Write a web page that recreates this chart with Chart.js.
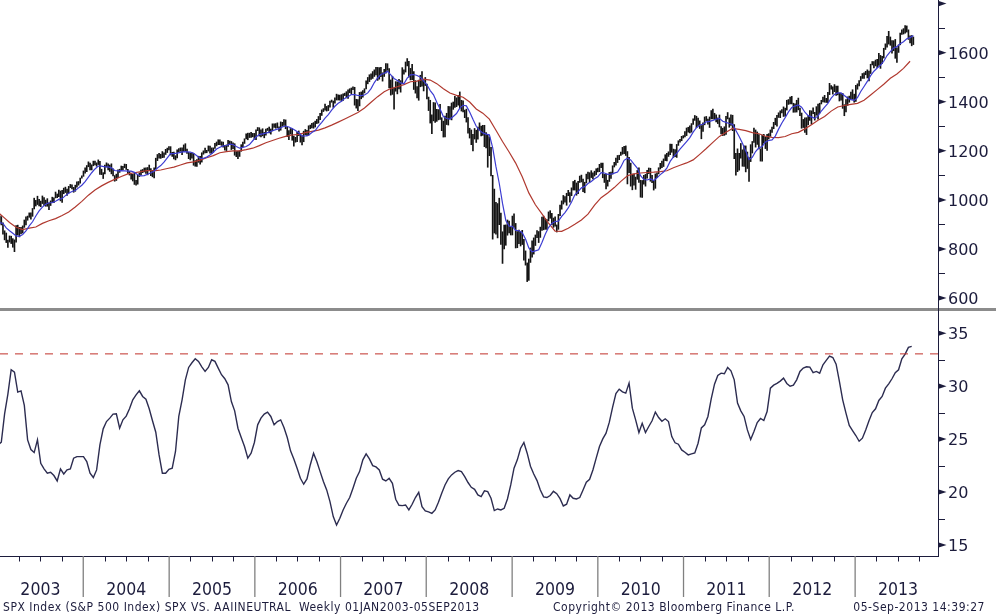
<!DOCTYPE html>
<html><head><meta charset="utf-8">
<script src="https://cdn.jsdelivr.net/npm/chart.js@4.4.1/dist/chart.umd.min.js"></script>
<style>
html,body{margin:0;padding:0;background:#fff;width:996px;height:616px;overflow:hidden;}
canvas{position:absolute;left:0;}
#top{top:0;}
#bot{top:311px;}
#sep{position:absolute;left:0;top:308px;width:996px;height:3px;background:#8c8c8c;}
#sepx{position:absolute;left:938px;top:308px;width:1px;height:3px;background:#1c1c3c;}
.ft{position:absolute;top:600px;line-height:14px;font-size:12px;letter-spacing:0.52px;font-family:"DejaVu Sans Condensed","DejaVu Sans",sans-serif;font-stretch:condensed;color:#1c1c3c;white-space:pre;}
</style></head><body>
<canvas id="top" width="996" height="308"></canvas>
<div id="sep"></div><div id="sepx"></div>
<canvas id="bot" width="996" height="305"></canvas>
<div class="ft" style="left:3px">SPX Index (S&amp;P 500 Index) SPX VS. AAIINEUTRAL  Weekly 01JAN2003-05SEP2013</div>
<div class="ft" style="left:553px">Copyright© 2013 Bloomberg Finance L.P.</div>
<div class="ft" style="right:11px">05-Sep-2013 14:39:27</div>
<script>
// ---------- DATA (weekly, first week ending 2003-01-03) ----------
const yearLabels = [2003,2004,2005,2006,2007,2008,2009,2010,2011,2012,2013];
const spxTicks = [600,800,1000,1200,1400,1600,1800];
const spxMinorTicks = [700,900,1100,1300,1500,1700];
const aaiiTicks = [15,20,25,30,35];
const aaiiMinorTicks = [17.5,22.5,27.5,32.5];
const neutralLevel = 33.05;

const spxLow = [
872,905,898,860,837,826,806,828,822,807,789,828,857,849,862,865,888,898,917,929,921,933,963,975,981,975,972,985,977,974,974,960,977,990,989,1008,1009,1013,996,990,1025,1030,1018,1028,1050,1045,1031,1035,1052,1060,1068,1088,
1096,1109,1115,1135,1122,1122,1139,1142,1137,1144,1104,1103,1087,1106,1134,1122,1116,1106,1098,1076,1079,1091,1112,1122,1123,1131,1124,1108,1101,1084,1077,1063,1060,1064,1095,1102,1111,1114,1108,1102,1121,1099,1094,1090,1127,1160,1170,1169,1172,1173,1185,1193,1204,
1183,1177,1167,1163,1171,1195,1198,1184,1198,1199,1189,1168,1163,1170,1141,1137,1136,1153,1146,1154,1186,1191,1192,1199,1190,1188,1194,1210,1220,1225,1225,1222,1215,1203,1201,1218,1228,1205,1209,1182,1176,1168,1177,1198,1217,1230,1248,1245,1254,1255,1257,1247,
1245,1282,1260,1257,1261,1253,1264,1283,1273,1268,1281,1295,1292,1294,1280,1284,1300,1303,1290,1258,1245,1268,1243,1219,1235,1237,1262,1235,1224,1237,1266,1261,1264,1290,1293,1292,1297,1311,1313,1327,1344,1360,1366,1362,1364,1378,1398,1377,1394,1407,1407,1406,
1403,1405,1425,1416,1414,1437,1431,1449,1386,1374,1364,1383,1412,1419,1436,1452,1473,1482,1491,1495,1503,1509,1487,1492,1502,1484,1503,1516,1528,1456,1427,1430,1370,1443,1432,1452,1439,1475,1512,1521,1546,1500,1489,1490,1450,1435,1416,1406,1461,1463,1444,1466,
1411,1364,1313,1270,1322,1316,1320,1326,1328,1282,1256,1257,1307,1305,1330,1326,1369,1377,1380,1386,1374,1362,1359,1335,1317,1272,1252,1225,1200,1248,1234,1247,1285,1261,1263,1217,1212,1133,1180,1098,840,865,860,845,899,818,741,800,815,856,865,857,
857,888,804,805,822,812,818,754,734,667,672,745,766,779,814,846,826,847,876,878,880,880,914,925,899,888,893,869,880,936,962,983,991,978,1017,991,1017,1040,1040,1019,1025,1071,1073,1033,1029,1069,1085,1073,1091,1085,1097,1103,1114,
1115,1131,1090,1071,1045,1056,1075,1087,1105,1134,1141,1152,1164,1181,1186,1188,1181,1065,1111,1056,1041,1060,1043,1084,1071,1011,1010,1064,1056,1088,1107,1076,1070,1040,1047,1091,1106,1126,1131,1136,1160,1159,1177,1184,1194,1173,1176,1173,1222,1235,1241,1252,
1257,1262,1276,1273,1276,1308,1324,1294,1302,1291,1249,1279,1306,1323,1309,1295,1330,1330,1328,1318,1311,1297,1269,1262,1263,1267,1330,1296,1303,1282,1168,1101,1115,1121,1170,1137,1136,1114,1128,1075,1156,1191,1234,1215,1226,1208,1158,1158,1231,1209,1202,1248,
1259,1275,1290,1306,1300,1336,1335,1354,1340,1341,1366,1389,1391,1391,1357,1358,1358,1367,1343,1292,1295,1275,1266,1306,1324,1309,1351,1325,1345,1329,1354,1391,1399,1398,1397,1396,1429,1451,1431,1441,1426,1428,1403,1406,1373,1343,1359,1385,1398,1412,1410,1398,
1401,1451,1465,1485,1495,1495,1510,1497,1485,1515,1550,1538,1546,1539,1548,1536,1555,1578,1613,1622,1635,1630,1598,1608,1577,1560,1601,1632,1674,1676,1680,1684,1654,1640,1628,1633
];
const spxHigh = [
912,935,932,906,874,865,836,853,852,842,837,895,897,888,888,894,918,931,934,947,947,965,1007,998,1015,1002,995,1016,1009,999,1005,987,996,1011,1008,1032,1024,1040,1036,1039,1048,1052,1044,1055,1063,1061,1051,1060,1074,1075,1089,1098,
1118,1131,1140,1155,1150,1143,1158,1158,1151,1163,1157,1125,1111,1142,1151,1147,1142,1147,1127,1099,1105,1122,1125,1138,1137,1146,1145,1125,1116,1106,1104,1108,1080,1100,1110,1121,1124,1130,1131,1132,1142,1128,1120,1131,1170,1185,1190,1186,1197,1192,1206,1211,1217,
1217,1194,1195,1180,1204,1209,1212,1212,1224,1229,1207,1194,1191,1192,1190,1160,1164,1178,1178,1192,1200,1211,1202,1220,1219,1212,1212,1230,1236,1245,1245,1237,1236,1222,1224,1243,1240,1238,1233,1229,1197,1198,1200,1225,1236,1249,1269,1272,1272,1275,1271,1271,
1286,1295,1294,1286,1290,1275,1289,1292,1297,1289,1310,1310,1311,1314,1298,1318,1316,1327,1326,1296,1282,1291,1290,1260,1255,1275,1281,1270,1262,1280,1287,1283,1302,1305,1312,1315,1321,1328,1340,1353,1367,1372,1390,1381,1385,1403,1407,1403,1416,1431,1428,1427,
1429,1432,1435,1441,1449,1453,1456,1461,1459,1410,1409,1438,1440,1445,1453,1485,1499,1510,1514,1523,1530,1540,1540,1539,1540,1518,1532,1556,1555,1535,1489,1504,1456,1482,1481,1491,1486,1539,1530,1562,1576,1565,1536,1552,1523,1486,1462,1488,1508,1523,1486,1499,
1472,1419,1406,1347,1397,1396,1369,1368,1389,1335,1321,1342,1353,1381,1380,1395,1399,1422,1416,1426,1440,1406,1404,1366,1370,1335,1292,1285,1267,1291,1284,1297,1314,1301,1304,1304,1274,1266,1256,1214,1100,1044,990,985,1007,946,870,897,898,918,914,889,
934,943,904,871,877,870,876,839,792,743,759,804,833,845,857,875,871,889,930,934,924,920,951,956,945,926,931,898,941,979,996,1018,1013,1027,1039,1030,1049,1075,1080,1069,1076,1097,1101,1085,1072,1105,1113,1111,1119,1110,1117,1127,1130,
1145,1150,1150,1104,1104,1080,1112,1113,1139,1153,1170,1181,1182,1195,1214,1218,1220,1197,1173,1150,1105,1105,1093,1120,1131,1080,1079,1100,1104,1120,1130,1129,1100,1080,1106,1110,1131,1149,1158,1167,1184,1190,1196,1227,1227,1207,1205,1226,1241,1247,1259,1262,
1278,1293,1296,1302,1311,1330,1344,1341,1333,1322,1303,1314,1338,1340,1329,1338,1364,1370,1353,1347,1334,1346,1299,1292,1298,1341,1356,1334,1347,1345,1307,1190,1208,1190,1230,1204,1220,1220,1195,1172,1225,1238,1293,1285,1277,1266,1208,1264,1267,1256,1267,1270,
1285,1297,1316,1333,1345,1355,1363,1368,1379,1374,1406,1409,1419,1422,1394,1392,1406,1415,1374,1354,1328,1334,1335,1344,1364,1363,1375,1357,1380,1390,1394,1406,1419,1426,1414,1438,1475,1466,1461,1470,1464,1464,1435,1434,1434,1388,1409,1420,1423,1439,1449,1431,
1467,1473,1486,1503,1515,1518,1524,1530,1525,1553,1564,1564,1570,1573,1597,1589,1585,1618,1636,1667,1687,1664,1649,1649,1654,1620,1632,1680,1693,1698,1710,1709,1693,1669,1670,1664
];
// 10-week moving average (blue), one value every 2nd week starting week 1
const spxMA10 = [
908.1,903.9,885.8,874.2,864.1,853.4,851.3,859.0,873.2,894.0,910.8,934.2,955.2,970.7,982.1,988.2,988.9,994.7,1001.8,1005.3,1017.3,1026.9,1034.3,1038.2,1049.0,1059.7,1074.8,1092.6,1110.6,1126.0,1137.7,1137.7,1134.6,1134.6,1130.4,1119.7,1118.0,1119.0,1118.5,1117.5,
1116.9,1112.0,1102.4,1097.6,1099.0,1104.4,1110.9,1116.9,1129.8,1139.8,1153.6,1171.0,1188.5,1188.7,1190.8,1193.6,1196.5,1195.8,1194.9,1189.9,1180.1,1169.3,1169.1,1174.3,1182.8,1194.3,1207.5,1214.7,1220.0,1221.5,1227.1,1225.7,1217.9,1210.7,1213.9,1217.6,1225.6,1241.0,1256.6,1266.0,
1269.1,1272.1,1276.1,1281.6,1286.5,1290.2,1297.0,1301.0,1296.9,1291.1,1282.3,1273.6,1259.6,1260.7,1263.5,1274.5,1282.8,1300.2,1316.0,1333.6,1347.6,1365.9,1381.5,1393.8,1402.0,1413.6,1420.4,1429.1,1429.2,1425.4,1424.9,1427.6,1436.0,1453.4,1478.2,1496.9,1510.8,1516.3,1523.8,1509.2,
1494.8,1486.5,1477.0,1473.6,1496.3,1509.9,1510.9,1507.1,1500.4,1483.7,1469.1,1445.4,1428.1,1397.6,1370.7,1339.9,1331.7,1329.4,1340.1,1352.0,1374.0,1385.6,1383.1,1358.4,1328.2,1299.9,1283.2,1272.9,1268.2,1265.0,1213.0,1135.3,1067.8,985.7,916.1,893.0,891.8,875.8,874.3,866.6,
840.4,803.9,788.3,792.4,796.5,826.6,859.6,887.1,903.9,911.9,913.1,932.8,948.4,967.1,991.5,1020.8,1033.8,1049.1,1054.1,1066.7,1075.2,1086.4,1093.8,1111.4,1109.5,1103.9,1104.4,1109.1,1113.6,1134.3,1161.1,1169.5,1162.9,1145.7,1129.4,1098.4,1082.9,1081.0,1085.7,1078.4,
1089.9,1103.0,1113.7,1129.5,1156.8,1175.3,1189.3,1206.6,1222.1,1237.6,1253.7,1276.3,1294.2,1305.3,1308.1,1318.2,1319.9,1324.0,1328.6,1332.4,1320.6,1315.7,1311.3,1307.9,1282.6,1258.4,1230.4,1199.6,1164.6,1173.1,1196.9,1212.0,1217.1,1235.9,1241.9,1244.7,1259.9,1288.4,1313.6,1335.4,
1358.8,1376.3,1382.4,1387.0,1377.8,1357.2,1343.4,1338.3,1332.2,1342.2,1362.3,1378.4,1393.1,1414.5,1429.8,1436.3,1436.0,1425.5,1415.5,1408.5,1405.6,1416.8,1441.7,1462.3,1482.7,1506.4,1524.3,1537.6,1548.9,1565.0,1588.2,1604.5,1619.2,1624.7,1636.2,1644.5,1656.6,1661.5,1670.4
];
// 40-week moving average (red), one value every 4th week starting week -1
const spxMA40 = [
954.9,931.6,908.1,888.5,878.8,884.7,889.5,904.3,915.1,923.6,936.4,950.3,971.0,994.0,1019.2,1040.6,1057.1,1071.3,1083.6,1095.1,
1105.7,1110.6,1115.3,1119.7,1118.2,1121.7,1128.0,1133.6,1142.1,1150.9,1154.9,1161.9,1171.9,1180.4,1192.0,1196.3,1199.8,1200.0,1204.8,1210.7,
1221.0,1232.7,1242.2,1251.0,1259.0,1264.4,1267.1,1273.9,1279.0,1284.2,1293.7,1304.8,1316.8,1329.5,1342.6,1356.1,1374.2,1398.1,1420.7,1440.8,
1453.7,1461.3,1470.0,1481.6,1484.1,1491.9,1488.4,1473.8,1453.4,1435.4,1425.7,1418.4,1399.1,1370.7,1353.4,1329.0,1284.0,1238.1,1195.0,1149.9,
1094.0,1028.5,980.2,943.3,904.7,872.8,872.0,884.4,900.2,918.2,941.6,978.2,1009.1,1028.3,1050.1,1075.5,1098.5,1106.2,1109.6,1111.7,
1112.9,1114.9,1118.6,1131.2,1141.1,1150.6,1162.9,1185.6,1209.3,1234.6,1258.7,1275.3,1291.0,1287.7,1282.3,1274.0,1269.5,1259.2,1255.1,1254.1,
1258.2,1269.7,1275.3,1289.4,1306.5,1324.3,1339.5,1361.8,1378.7,1384.8,1389.6,1393.6,1406.1,1427.6,1449.5,1471.5,1495.4,1512.8,1536.2,1565.0
];
// AAII neutral (smoothed), one value every 2nd week starting week 0
const aaiiNeutral = [
24.46,24.71,27.39,29.25,31.55,31.33,29.44,29.56,28.18,24.93,24.02,23.73,24.93,22.72,22.19,21.78,21.87,21.56,21.05,22.19,
21.71,22.09,22.19,23.2,23.35,23.35,23.35,22.88,21.78,21.37,22.09,24.46,25.97,26.66,26.98,27.36,27.39,26.03,26.82,27.17,
27.86,28.71,29.18,29.56,29.03,28.77,27.86,26.73,25.65,23.51,21.78,21.78,22.15,22.25,23.83,27.14,28.71,30.6,31.77,32.21,
32.59,32.34,31.83,31.39,31.77,32.49,32.34,31.71,31.08,30.7,30.13,28.55,27.67,26.03,25.15,24.3,23.2,23.67,24.68,26.35,
26.98,27.36,27.55,27.14,26.35,26.66,26.82,26.1,25.15,23.89,23.13,22.25,21.3,20.74,21.24,22.56,23.67,22.88,21.93,20.99,
20.2,19.1,17.68,16.89,17.52,18.31,18.94,19.48,20.36,21.3,21.93,23.04,23.61,23.13,22.5,22.37,22.09,21.21,21.05,21.3,
20.83,19.32,18.75,18.72,18.78,18.31,18.85,19.48,19.98,18.62,18.22,18.12,17.99,18.31,19.03,19.88,20.67,21.24,21.62,21.87,
22.03,21.93,21.46,20.9,20.45,20.26,19.73,19.57,20.11,20.04,19.41,18.25,18.4,18.31,18.47,19.35,20.67,22.25,23.04,24.14,
24.68,23.67,22.44,21.71,21.08,20.2,19.54,19.48,19.67,20.07,19.85,19.38,18.69,18.85,19.73,19.41,19.35,19.48,20.2,20.93,
21.21,22.09,23.2,24.3,25.02,25.56,26.6,28.02,29.31,29.72,29.47,29.34,30.29,27.92,26.82,25.62,26.5,25.62,26.19,26.73,
27.55,27.04,26.69,26.92,26.66,25.24,24.65,24.52,23.98,23.76,23.51,23.61,23.7,24.61,26.06,26.35,27.14,28.8,30.19,31.01,
31.23,31.17,31.77,31.45,30.6,28.4,27.67,27.14,25.87,24.96,25.72,26.57,26.95,26.76,27.61,29.81,30.1,30.26,30.48,30.76,
30.26,30.0,30.1,30.6,31.39,31.71,31.83,31.8,31.27,31.39,31.23,32.02,32.43,32.84,32.71,32.08,30.45,28.71,27.45,26.29,
25.81,25.34,24.8,25.09,25.87,26.73,27.51,27.86,28.65,29.03,29.81,30.22,30.7,31.27,31.55,32.59,33.03,33.66,33.76
];

// ---------- helpers ----------
const INK = '#1c1c3c';
const START = Date.UTC(2003,0,3), WEEK = 7*86400000;
const weekOf = (y,m) => (Date.UTC(y,m,1)-START)/WEEK;
const X_MIN = 1.2, X_MAX = 572.0;

const axisMarks = {
  id:'axisMarks',
  afterDraw(chart, args, o){
    const {ctx, chartArea:a} = chart, ys = chart.scales.y;
    ctx.save();
    ctx.strokeStyle = INK; ctx.fillStyle = INK; ctx.lineWidth = 1;
    ctx.beginPath(); ctx.moveTo(a.right+0.5, 0); ctx.lineTo(a.right+0.5, a.bottom+1); ctx.stroke();
    for (const v of o.major){
      const y = ys.getPixelForValue(v);
      ctx.beginPath(); ctx.moveTo(a.right, y-2.8); ctx.lineTo(a.right+8.5, y); ctx.lineTo(a.right, y+2.8); ctx.closePath(); ctx.fill();
    }
    for (const v of o.minor){
      const y = Math.round(ys.getPixelForValue(v))+0.5;
      ctx.beginPath(); ctx.moveTo(a.right, y); ctx.lineTo(a.right+7, y); ctx.stroke();
    }
    ctx.restore();
  }
};

const yearAxis = {
  id:'yearAxis',
  afterDraw(chart){
    const {ctx, chartArea:a} = chart, xs = chart.scales.x;
    const yb = a.bottom;
    ctx.save();
    ctx.strokeStyle = INK; ctx.lineWidth = 1;
    ctx.beginPath(); ctx.moveTo(0, yb+0.5); ctx.lineTo(a.right+1, yb+0.5); ctx.stroke();
    // quarter ticks
    for (const yr of yearLabels){
      for (const m of [3,6,9]){
        const px = Math.round(xs.getPixelForValue(weekOf(yr,m)))+0.5;
        if (px < a.left || px > a.right) continue;
        ctx.beginPath(); ctx.moveTo(px, yb); ctx.lineTo(px, yb+5.5); ctx.stroke();
      }
    }
    // year separators
    ctx.strokeStyle = '#808080'; ctx.lineWidth = 1.3;
    for (const yr of yearLabels){
      const px = xs.getPixelForValue(weekOf(yr,0));
      if (px < a.left+1 || px > a.right) continue;
      ctx.beginPath(); ctx.moveTo(px, yb); ctx.lineTo(px, yb+41); ctx.stroke();
    }
    // year labels
    ctx.fillStyle = INK;
    ctx.font = '17.5px "DejaVu Sans Condensed", "DejaVu Sans", sans-serif';
    ctx.textAlign = 'center'; ctx.textBaseline = 'alphabetic';
    for (const yr of yearLabels){
      const c = (xs.getPixelForValue(weekOf(yr,0)) + xs.getPixelForValue(weekOf(yr+1,0)))/2;
      ctx.fillText(String(yr), c, yb+39);
    }
    ctx.restore();
  }
};

const yAxisCommon = (min, max, ticks) => ({
  position:'right', min, max,
  afterFit(s){ s.width = 58; s.paddingTop = 0; s.paddingBottom = 0; },
  afterBuildTicks(s){ s.ticks = ticks.map(v => ({value:v})); },
  grid:{display:false, drawTicks:false},
  border:{display:false},
  ticks:{ padding:10, labelOffset:2, color:INK, crossAlign:'near', font:{family:'"DejaVu Sans", sans-serif', size:16},
          callback:(v) => (v === 1800 ? '' : String(v)) }
});

const xAxis = {type:'linear', display:false, min:X_MIN, max:X_MAX, offset:false};

new Chart(document.getElementById('top'), {
  type:'bar',
  data:{datasets:[
    {type:'line', order:0, data: spxMA10.map((v,i)=>({x:1+2*i, y:v})), borderColor:'#3c3cd2', borderWidth:1.2, pointRadius:0, tension:0},
    {type:'line', order:1, data: spxMA40.map((v,i)=>({x:-1+4*i, y:v})), borderColor:'#b0392f', borderWidth:1.2, pointRadius:0, tension:0},
    {type:'bar', order:2, data: spxLow.map((lo,i)=>({x:i, y:[lo, spxHigh[i]]})), backgroundColor:'#141414', barThickness:1}
  ]},
  options:{
    responsive:false, animation:false, events:[],
    layout:{padding:0},
    plugins:{legend:{display:false}, tooltip:{enabled:false}, axisMarks:{major:spxTicks, minor:spxMinorTicks}},
    scales:{ x:xAxis, y:yAxisCommon(559.3, 1814.7, spxTicks) }
  },
  plugins:[axisMarks]
});

new Chart(document.getElementById('bot'), {
  type:'line',
  data:{datasets:[
    {data:[{x:X_MIN, y:neutralLevel},{x:X_MAX, y:neutralLevel}], borderColor:'#c0302a', borderWidth:1, borderDash:[8,7], pointRadius:0},
    {data: aaiiNeutral.map((v,i)=>({x:2*i, y:v})), borderColor:'#2c2c50', borderWidth:1.4, pointRadius:0, tension:0}
  ]},
  options:{
    responsive:false, animation:false, events:[],
    layout:{padding:{bottom:60}},
    plugins:{legend:{display:false}, tooltip:{enabled:false}, axisMarks:{major:aaiiTicks, minor:aaiiMinorTicks}},
    scales:{ x:xAxis, y:yAxisCommon(13.96, 37.1, aaiiTicks) }
  },
  plugins:[axisMarks, yearAxis]
});
</script>
</body></html>
